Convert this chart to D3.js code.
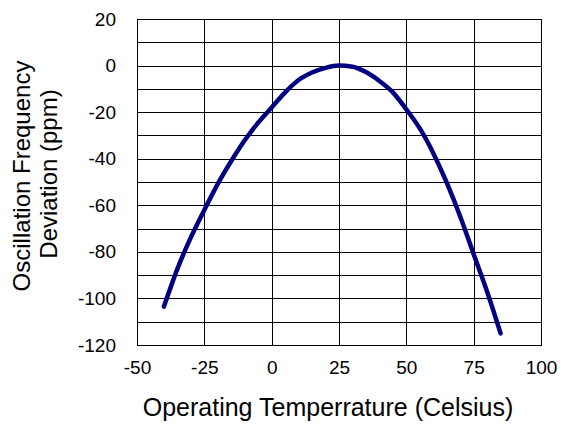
<!DOCTYPE html>
<html><head><meta charset="utf-8">
<script src="https://cdn.jsdelivr.net/npm/d3@7"></script>
<style>body{margin:0;background:#fff}svg{display:block}</style>
</head><body><svg id="c" width="563" height="424"></svg>
<script>
const temps = [-40,-35,-30,-25,-20,-15,-10,-5,0,5,10,15,20,25,30,35,40,45,50,55,60,65,70,75,80,85];
const deviation = [-103.5,-87.3,-73.8,-62,-50.8,-41,-32.1,-24.5,-18,-11.5,-6.2,-3,-1,0,-0.5,-2.8,-6.6,-11.5,-18.8,-27,-37.6,-50.3,-64.8,-81,-97.1,-115];
const xTicks = [-50,-25,0,25,50,75,100];
const yTicks = [-120,-100,-80,-60,-40,-20,0,20];
const yGrid = [-120,-110,-100,-90,-80,-70,-60,-50,-40,-30,-20,-10,0,10,20];
const xTitle = "Operating Temperrature (Celsius)";
const yTitleLines = ["Oscillation Frequency","Deviation (ppm)"];

const svg = d3.select("#c");
const L = 137, T = 19, W = 404, H = 326;
const x = d3.scaleLinear().domain([-50,100]).range([0,W]);
const y = d3.scaleLinear().domain([-120,20]).range([H,0]);
const g = svg.append("g").attr("transform",`translate(${L},${T})`);
const font = "'Liberation Sans', Arial, sans-serif";
const fmt = d => String(d);

// horizontal gridlines
g.append("g").call(d3.axisLeft(y).tickValues(yGrid).tickSize(-W).tickFormat(""))
  .call(s=>{s.select(".domain").remove(); s.selectAll("line").attr("stroke","#000").attr("shape-rendering","crispEdges");});
// vertical gridlines
g.append("g").attr("transform",`translate(0,${H})`)
  .call(d3.axisBottom(x).tickValues(xTicks).tickSize(-H).tickFormat(""))
  .call(s=>{s.select(".domain").remove(); s.selectAll("line").attr("stroke","#000").attr("shape-rendering","crispEdges");});
// x axis at zero with small ticks
g.append("g").attr("transform",`translate(0,${y(0)})`)
  .call(d3.axisTop(x).tickValues(xTicks).tickSize(4).tickSizeOuter(0).tickFormat(""))
  .call(s=>{s.selectAll("line,path").attr("stroke","#000").attr("stroke-width",1).attr("shape-rendering","crispEdges");});
// border
g.append("rect").attr("x",0).attr("y",0).attr("width",W).attr("height",H)
  .attr("fill","none").attr("stroke","#000").attr("shape-rendering","crispEdges");

// y tick labels
g.append("g").call(d3.axisLeft(y).tickValues(yTicks).tickFormat(fmt).tickSize(0).tickPadding(21))
  .call(s=>{s.select(".domain").remove(); s.selectAll("text").attr("font-family",font).attr("font-size",19).attr("fill","#000");});
// x tick labels
g.append("g").attr("transform",`translate(0,${H})`)
  .call(d3.axisBottom(x).tickValues(xTicks).tickFormat(fmt).tickSize(0).tickPadding(16))
  .call(s=>{s.select(".domain").remove(); s.selectAll("text").attr("font-family",font).attr("font-size",19).attr("fill","#000");});

// curve
const line = d3.line().x((d,i)=>x(temps[i])).y(d=>y(d)).curve(d3.curveMonotoneX);
g.append("path").datum(deviation).attr("d",line).attr("fill","none")
  .attr("stroke","#000080").attr("stroke-width",4.5).attr("stroke-linecap","round").attr("stroke-linejoin","round");

// titles
svg.append("text").attr("x",328).attr("y",416).attr("text-anchor","middle")
  .attr("font-family",font).attr("font-size",25).attr("fill","#000").text(xTitle);
const yt = [[30,176],[57,174]];
yTitleLines.forEach((t,i)=>{
  svg.append("text").attr("transform",`translate(${yt[i][0]},${yt[i][1]}) rotate(-90)`)
    .attr("text-anchor","middle").attr("font-family",font).attr("font-size",24).attr("fill","#000").text(t);
});
</script></body></html>
